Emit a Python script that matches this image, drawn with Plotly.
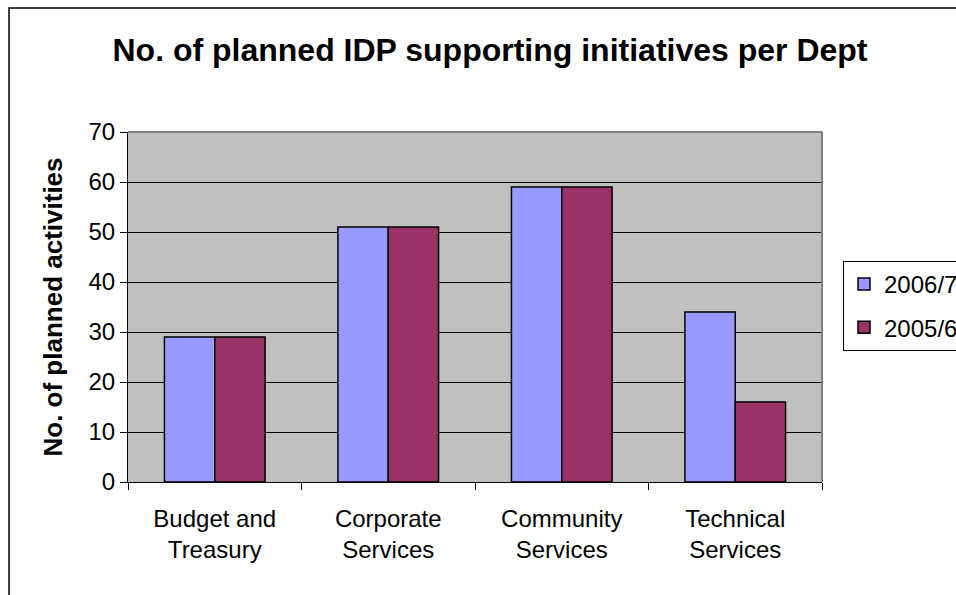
import plotly.graph_objects as go

categories = ["Budget and<br>Treasury", "Corporate<br>Services", "Community<br>Services", "Technical<br>Services"]
series_names = ["2006/7", "2005/6"]
values_2006 = [29, 51, 59, 34]
values_2005 = [29, 51, 59, 16]
y_ticks = [0, 10, 20, 30, 40, 50, 60, 70]

FONT = "Liberation Sans, Arial, sans-serif"

fig = go.Figure()
fig.add_trace(go.Bar(x=categories, y=values_2006, name=series_names[0], legendgroup="a",
                     marker=dict(color="#9999FF", line=dict(color="black", width=1.5))))
fig.add_trace(go.Bar(x=categories, y=values_2005, name=series_names[1], legendgroup="b",
                     marker=dict(color="#993366", line=dict(color="black", width=1.5))))

W, H = 956, 595
L, R, T, B = 128, 822, 132, 482
pw, ph = R - L, B - T

def px(x):
    return (x - L) / pw

def py(y):
    return (B - y) / ph

fig.update_layout(
    width=W, height=H,
    margin=dict(l=L, r=W - R, t=T, b=H - B, pad=0, autoexpand=False),
    paper_bgcolor="white",
    plot_bgcolor="#C0C0C0",
    barmode="group",
    bargap=0.42,
    bargroupgap=0,
    font=dict(family=FONT, size=24, color="black"),
    title=dict(text="<b>No. of planned IDP supporting initiatives per Dept</b>",
               x=px(490), xref="paper", xanchor="center",
               y=1 - 50 / H, yref="container", yanchor="middle",
               font=dict(family=FONT, size=32, color="black")),
    showlegend=True,
    legend=dict(x=px(843), xanchor="left", y=py(306), yanchor="middle",
                bordercolor="black", borderwidth=1, bgcolor="white",
                font=dict(family=FONT, size=24, color="black"),
                itemwidth=30, traceorder="grouped", tracegroupgap=9),
    xaxis=dict(showline=True, linecolor="black", linewidth=1,
               ticks="outside", tickson="boundaries", ticklen=7, tickcolor="black",
               ticklabelstandoff=15,
               tickfont=dict(family=FONT, size=24), showgrid=False),
    yaxis=dict(range=[0, 70], tickvals=y_ticks, showline=True, linecolor="black", linewidth=1,
               ticks="outside", ticklen=7, tickcolor="black",
               showgrid=True, gridcolor="black", gridwidth=1, zeroline=False,
               tickfont=dict(family=FONT, size=24),
               title=dict(text="<b>No. of planned activities</b>",
                          font=dict(family=FONT, size=26), standoff=18)),
    shapes=[
        dict(type="line", xref="paper", yref="paper", x0=0, x1=1, y0=1, y1=1,
             line=dict(color="#808080", width=2), layer="above"),
        dict(type="line", xref="paper", yref="paper", x0=1, x1=1, y0=0, y1=1,
             line=dict(color="#808080", width=2), layer="above"),
        dict(type="rect", xref="paper", yref="paper",
             x0=px(9), x1=px(1000), y0=py(8), y1=py(700),
             line=dict(color="black", width=1.5), layer="below"),
    ],
)

fig.write_html("out.html")
